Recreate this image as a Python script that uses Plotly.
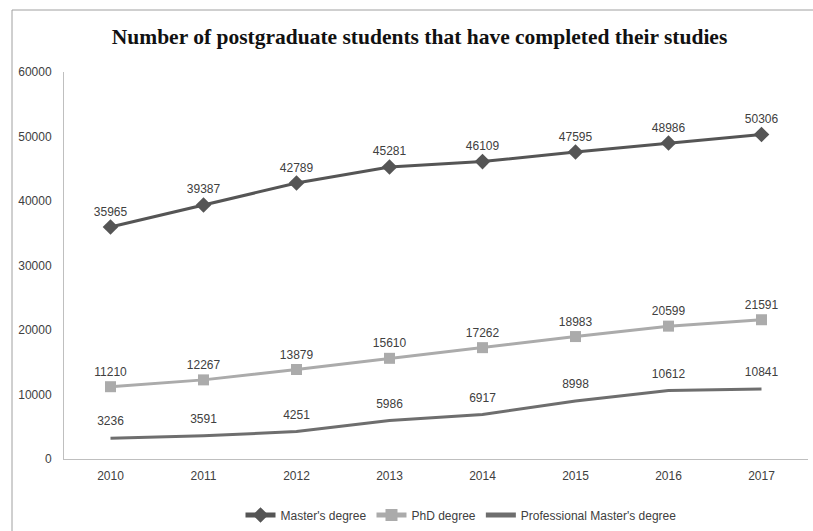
import plotly.graph_objects as go

years = ["2010", "2011", "2012", "2013", "2014", "2015", "2016", "2017"]
masters = [35965, 39387, 42789, 45281, 46109, 47595, 48986, 50306]
phd = [11210, 12267, 13879, 15610, 17262, 18983, 20599, 21591]
professional = [3236, 3591, 4251, 5986, 6917, 8998, 10612, 10841]
y_ticks = [0, 10000, 20000, 30000, 40000, 50000, 60000]
y_tick_labels = ["0", "10000", "20000", "30000", "40000", "50000", "60000"]

label_font = dict(family="Liberation Sans, Arial, sans-serif", size=12, color="#404040")

fig = go.Figure()
fig.add_trace(go.Scatter(
    x=years, y=masters, name="Master's degree", mode="lines+markers+text",
    line=dict(color="#555555", width=3), marker=dict(symbol="diamond", size=12, color="#555555"),
    text=[str(v) for v in masters], textposition="top center", textfont=label_font,
))
fig.add_trace(go.Scatter(
    x=years, y=phd, name="PhD degree", mode="lines+markers+text",
    line=dict(color="#ababab", width=3), marker=dict(symbol="square", size=11, color="#ababab"),
    text=[str(v) for v in phd], textposition="top center", textfont=label_font,
))
fig.add_trace(go.Scatter(
    x=years, y=professional, name="Professional Master's degree", mode="lines+markers+text",
    line=dict(color="#6e6e6e", width=3), marker=dict(size=14, color="rgba(0,0,0,0)"),
    text=[str(v) for v in professional], textposition="top center", textfont=label_font,
))

fig.update_layout(
    width=813, height=531,
    margin=dict(l=64, r=5, t=72, b=72, autoexpand=False),
    paper_bgcolor="white", plot_bgcolor="white",
    title=dict(text="<b>Number of postgraduate students that have completed their studies</b>",
               x=0.516, xanchor="center", y=1 - 36 / 531, yanchor="middle",
               font=dict(family="Liberation Serif, Times New Roman, serif", size=21.5, color="#111111")),
    xaxis=dict(type="category", range=[-0.5, 7.5], showgrid=False, showline=True,
               linecolor="#bfbfbf", linewidth=1, ticks="", zeroline=False, automargin=False,
               tickfont=dict(family="Liberation Sans, Arial, sans-serif", size=12, color="#404040"),
               ticklabelstandoff=6),
    yaxis=dict(range=[0, 60000], tickvals=y_ticks, ticktext=y_tick_labels, showgrid=False,
               showline=True, linecolor="#bfbfbf", linewidth=1, ticks="", zeroline=False,
               automargin=False,
               tickfont=dict(family="Liberation Sans, Arial, sans-serif", size=12, color="#404040"),
               ticklabelstandoff=9),
    legend=dict(orientation="h", x=(461 - 64) / 744, xanchor="center", y=1 - 515 / 531, yanchor="middle",
                yref="container", itemsizing="constant",
                font=dict(family="Liberation Sans, Arial, sans-serif", size=12, color="#404040"),
                itemwidth=30, traceorder="normal"),
    showlegend=True,
    shapes=[dict(type="rect", xref="paper", yref="paper", x0=-52 / 744, x1=1.2,
                 y0=-0.3, y1=1 + 62 / 387, line=dict(color="#a0a0a0", width=1), layer="below")],
)

fig.write_html("out.html", config={"displayModeBar": False},
               post_script="document.body.style.margin='0';document.body.style.overflow='hidden';")
